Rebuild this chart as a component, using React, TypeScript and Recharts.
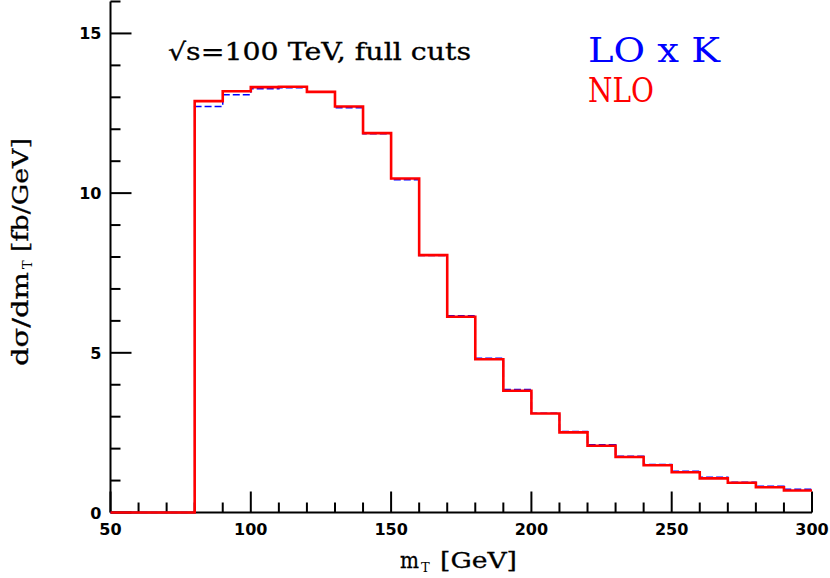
import React from 'react';
import { LineChart, Line, XAxis, YAxis } from 'recharts';

// bin lower edges (GeV), 10 GeV bins
const binEdges = [50, 60, 70, 80, 90, 100, 110, 120, 130, 140, 150, 160, 170, 180, 190, 200, 210, 220, 230, 240, 250, 260, 270, 280, 290];
const binUpperEnd = 300;
const nloValues = [0, 0, 0, 12.88, 13.19, 13.32, 13.33, 13.17, 12.71, 11.88, 10.46, 8.06, 6.13, 4.8, 3.81, 3.1, 2.51, 2.09, 1.74, 1.48, 1.26, 1.07, 0.93, 0.79, 0.69];
const loKValues = [0, 0, 0, 12.71, 13.08, 13.27, 13.3, 13.16, 12.67, 11.86, 10.42, 8.05, 6.16, 4.83, 3.85, 3.11, 2.54, 2.12, 1.76, 1.5, 1.29, 1.1, 0.95, 0.82, 0.73];

const xTicks = [50, 60, 70, 80, 90, 100, 110, 120, 130, 140, 150, 160, 170, 180, 190, 200, 210, 220, 230, 240, 250, 260, 270, 280, 290, 300];
const xMajorStep = 50;
const yTicks = [0, 1, 2, 3, 4, 5, 6, 7, 8, 9, 10, 11, 12, 13, 14, 15, 16];
const yMajorStep = 5;

const titleText = '√s=100 TeV, full cuts';
const legendLO = 'LO x K';
const legendNLO = 'NLO';

const data = [
  ...binEdges.map((x, i) => ({ x, nlo: nloValues[i], lok: loKValues[i] })),
  { x: binUpperEnd, nlo: nloValues[nloValues.length - 1], lok: loKValues[loKValues.length - 1] },
];

const W = 830;
const H = 578;
const M = { top: 1.5, right: 18, bottom: 65.5, left: 110.5 };
// the lines layer extends a little below y=0 so the zero-level step is not cut at the frame
const yPad = 0.1;
const pxPerY = (H - M.top - M.bottom) / 16;
const MAJ = 21;
const MIN = 10;
const tickFont = { fontFamily: '"DejaVu Sans", sans-serif', fontSize: 16, fontWeight: 700 as const };
const serif = '"DejaVu Serif", serif';

const BottomTick = (props: any) => {
  const { x, y, payload } = props;
  const v = payload.value;
  const major = v % xMajorStep === 0;
  return (
    <g>
      <line x1={x} x2={x} y1={y} y2={y - (major ? MAJ : MIN)} stroke="#000" strokeWidth={2} />
      {major && (
        <text x={x} y={y + 22} textAnchor="middle" fill="#000" {...tickFont}>
          {v}
        </text>
      )}
    </g>
  );
};

const TopTick = (props: any) => {
  const { x, y, payload } = props;
  const major = payload.value % xMajorStep === 0;
  return <line x1={x} x2={x} y1={y} y2={y + (major ? MAJ : MIN)} stroke="#000" strokeWidth={2} />;
};

const LeftTick = (props: any) => {
  const { x, y, payload } = props;
  const v = payload.value;
  const major = v % yMajorStep === 0;
  return (
    <g>
      <line x1={x} x2={x + (major ? MAJ : MIN)} y1={y} y2={y} stroke="#000" strokeWidth={2} />
      {major && (
        <text x={x - 9} y={y + 6} textAnchor="end" fill="#000" {...tickFont}>
          {v}
        </text>
      )}
    </g>
  );
};

const RightTick = (props: any) => {
  const { x, y, payload } = props;
  const major = payload.value % yMajorStep === 0;
  return <line x1={x} x2={x - (major ? MAJ : MIN)} y1={y} y2={y} stroke="#000" strokeWidth={2} />;
};

const layer = { position: 'absolute' as const, left: 0, top: 0 };

export default function App() {
  const axisLine = { stroke: '#000', strokeWidth: 2 };
  return (
    <div style={{ position: 'absolute', left: 0, top: 0, width: W, height: H, background: '#fff' }}>
      {/* frame, ticks and tick labels */}
      <div style={{ ...layer, zIndex: 1 }}>
        <LineChart width={W} height={H} data={data} margin={{ top: M.top, right: M.right, bottom: 0, left: 0 }}>
          <XAxis xAxisId="b" dataKey="x" type="number" domain={[50, 300]} ticks={xTicks} interval={0}
            orientation="bottom" height={M.bottom} tickSize={0} tickMargin={0}
            tickLine={false} axisLine={axisLine} tick={<BottomTick />} />
          <XAxis xAxisId="t" dataKey="x" type="number" domain={[50, 300]} ticks={xTicks} interval={0}
            orientation="top" height={0} tickSize={0} tickMargin={0}
            tickLine={false} axisLine={axisLine} tick={<TopTick />} />
          <YAxis yAxisId="l" type="number" domain={[0, 16]} ticks={yTicks} interval={0}
            orientation="left" width={M.left} tickSize={0} tickMargin={0}
            tickLine={false} axisLine={axisLine} tick={<LeftTick />} />
          <YAxis yAxisId="r" type="number" domain={[0, 16]} ticks={yTicks} interval={0}
            orientation="right" width={0} tickSize={0} tickMargin={0}
            tickLine={false} axisLine={axisLine} tick={<RightTick />} />
          <Line xAxisId="t" yAxisId="r" type="stepAfter" dataKey="nlo" stroke="none" dot={false}
            activeDot={false} isAnimationActive={false} />
          <Line xAxisId="b" yAxisId="l" type="stepAfter" dataKey="nlo" stroke="none" dot={false}
            activeDot={false} isAnimationActive={false} />
        </LineChart>
      </div>
      {/* histogram lines on top */}
      <div style={{ ...layer, zIndex: 2 }}>
        <LineChart width={W} height={H} data={data}
          margin={{ ...M, bottom: M.bottom - yPad * pxPerY }}>
          <XAxis dataKey="x" type="number" domain={[50, 300]} hide />
          <YAxis type="number" domain={[-yPad, 16]} hide />
          <Line type="stepAfter" dataKey="lok" stroke="#0000ff" strokeWidth={1.5} strokeDasharray="7 3"
            dot={false} activeDot={false} isAnimationActive={false} />
          <Line type="stepAfter" dataKey="nlo" stroke="#ff0000" strokeWidth={2.6}
            dot={false} activeDot={false} isAnimationActive={false} />
        </LineChart>
      </div>
      <svg width={W} height={H} style={{ ...layer, zIndex: 3, pointerEvents: 'none' }}>
        <text x={168} y={60} fontFamily={serif} fontSize={24} fill="#000" stroke="#000" strokeWidth={0.3} textLength={303} lengthAdjust="spacingAndGlyphs">
          {titleText}
        </text>
        <text x={588} y={62} fontFamily={serif} fontSize={33} fill="#0000ff" textLength={132} lengthAdjust="spacingAndGlyphs">
          {legendLO}
        </text>
        <text x={588} y={102} fontFamily={serif} fontSize={33} fill="#ff0000" textLength={66} lengthAdjust="spacingAndGlyphs">
          {legendNLO}
        </text>
        {/* x axis title */}
        <text x={400} y={568} fontFamily={serif} fontSize={23} fill="#000" stroke="#000" strokeWidth={0.3} textLength={19} lengthAdjust="spacingAndGlyphs">m</text>
        <text x={421} y={572} fontFamily={serif} fontSize={13} fill="#000">T</text>
        <text x={440} y={568} fontFamily={serif} fontSize={23} fill="#000" stroke="#000" strokeWidth={0.3} textLength={77} lengthAdjust="spacingAndGlyphs">[GeV]</text>
        {/* y axis title */}
        <g transform="translate(28,366) rotate(-90)">
          <text x={0} y={0} fontFamily={serif} fontSize={23} fill="#000" stroke="#000" strokeWidth={0.3} textLength={94} lengthAdjust="spacingAndGlyphs">dσ/dm</text>
          <text x={97} y={4} fontFamily={serif} fontSize={13} fill="#000">T</text>
          <text x={114} y={0} fontFamily={serif} fontSize={23} fill="#000" stroke="#000" strokeWidth={0.3} textLength={114} lengthAdjust="spacingAndGlyphs">[fb/GeV]</text>
        </g>
      </svg>
    </div>
  );
}
